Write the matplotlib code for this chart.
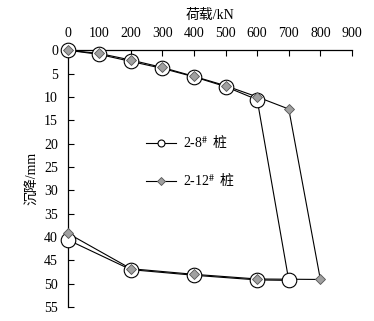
import matplotlib
matplotlib.use("Agg")
import matplotlib.pyplot as plt

plt.rcParams['font.family'] = ['Liberation Serif', 'Noto Sans CJK SC']
plt.rcParams['mathtext.fontset'] = 'stix'

# load (kN) and settlement (mm), loading then unloading
load_8 = [0, 100, 200, 300, 400, 500, 600, 700, 600, 400, 200, 0]
sett_8 = [0, 0.9, 2.4, 3.9, 5.7, 7.8, 10.6, 49.3, 49.2, 48.2, 47.0, 40.6]
load_12 = [0, 100, 200, 300, 400, 500, 600, 700, 800, 600, 400, 200, 0]
sett_12 = [0, 0.7, 2.1, 3.7, 5.6, 7.6, 10.0, 12.6, 49.1, 49.0, 48.0, 46.8, 39.2]

xticks = [0, 100, 200, 300, 400, 500, 600, 700, 800, 900]
yticks = [0, 5, 10, 15, 20, 25, 30, 35, 40, 45, 50, 55]
names = ['2-8$^{\\#}$', '2-12$^{\\#}$']

fig = plt.figure(figsize=(3.74, 3.21), dpi=100)
ax = fig.add_axes([0.181, 0.0436, 0.760, 0.800])

ax.plot(load_12, sett_12, color='black', lw=0.8, zorder=2, clip_on=False)
ax.plot(load_8, sett_8, color='black', lw=0.8, marker='o', ms=10.5,
        mfc='white', mec='black', mew=0.8, zorder=3, clip_on=False)
ax.plot(load_12, sett_12, color='none', marker='D', ms=5.5,
        mfc='#a0a0a0', mec='#555555', mew=0.6, zorder=4, clip_on=False)

ax.set_xlim(0, 900)
ax.set_ylim(55, 0)
ax.xaxis.tick_top()
ax.xaxis.set_label_position('top')
ax.set_xticks(xticks)
ax.set_yticks(yticks)
ax.tick_params(direction='in', labelsize=10, length=4, width=0.8, pad=7)
ax.spines['right'].set_visible(False)
ax.spines['bottom'].set_visible(False)
for s in ['top', 'left']:
    ax.spines[s].set_linewidth(0.9)
ax.set_xlabel('荷载/kN', fontsize=10, labelpad=6)
ax.set_ylabel('沉降/mm', fontsize=10, labelpad=4)

# hand-made legend (mathtext can't fall back to a CJK font)
styles = [dict(marker='o', ms=5, mfc='white', mec='black', mew=0.8),
          dict(marker='D', ms=4.5, mfc='#a0a0a0', mec='#555555', mew=0.6)]
for i, (name, st) in enumerate(zip(names, styles)):
    yy = 0.638 - i * 0.148
    ax.plot([0.277, 0.382], [yy, yy], color='black', lw=0.8, transform=ax.transAxes)
    ax.plot([0.33], [yy], transform=ax.transAxes, **st)
    t = ax.text(0.405, yy, name, transform=ax.transAxes, fontsize=10, va='center')
    ax.annotate('桩', xy=(1, 0.5), xycoords=t, xytext=(3, 0),
                textcoords='offset points', va='center', fontsize=10)

fig.savefig('out.png', dpi=100)
